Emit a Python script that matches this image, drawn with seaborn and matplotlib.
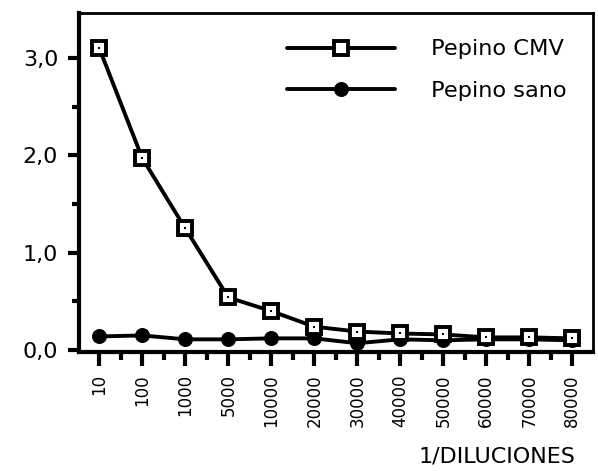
import matplotlib
matplotlib.use("Agg")
import matplotlib.pyplot as plt
import seaborn as sns
import pandas as pd
from matplotlib.ticker import FixedLocator, FuncFormatter

dilutions = ["10", "100", "1000", "5000", "10000", "20000", "30000",
             "40000", "50000", "60000", "70000", "80000"]
cmv = [3.10, 1.97, 1.25, 0.54, 0.40, 0.24, 0.19, 0.17, 0.16, 0.13, 0.13, 0.12]
sano = [0.14, 0.15, 0.11, 0.11, 0.12, 0.12, 0.07, 0.11, 0.10, 0.11, 0.11, 0.10]

df = pd.DataFrame({"dil": dilutions * 2,
                   "val": cmv + sano,
                   "serie": ["Pepino CMV"] * len(cmv) + ["Pepino sano"] * len(sano)})

sns.set_theme(style="white")
plt.rcParams['font.family'] = ['DejaVu Sans']
plt.rcParams['text.color'] = 'black'
plt.rcParams['axes.labelcolor'] = 'black'
plt.rcParams['xtick.color'] = 'black'
plt.rcParams['ytick.color'] = 'black'

fig = plt.figure(figsize=(5.98, 4.71), dpi=100)
ax = fig.add_axes([79/598, 1-352/471, (593-79)/598, (352-13)/471])

d1 = df[df.serie == "Pepino CMV"]
d2 = df[df.serie == "Pepino sano"]
sns.lineplot(data=d1, x="dil", y="val", ax=ax, sort=False, color="black",
             lw=2.8, marker="s", markersize=10, markerfacecolor="white",
             markeredgecolor="black", markeredgewidth=2.8, label="Pepino CMV", zorder=3)
sns.lineplot(data=d2, x="dil", y="val", ax=ax, sort=False, color="black",
             lw=2.8, marker="o", markersize=10, markeredgecolor="black",
             label="Pepino sano", zorder=2)
sns.scatterplot(data=d1, x="dil", y="val", ax=ax, color="black", s=4,
                marker="s", linewidth=0, zorder=4, legend=False)

ax.set_xlim(-0.47, 11.48)
ax.set_ylim(-0.02, 3.46)
ax.yaxis.set_major_locator(FixedLocator([0, 1, 2, 3]))
ax.yaxis.set_minor_locator(FixedLocator([0.5, 1.5, 2.5]))
ax.yaxis.set_major_formatter(FuncFormatter(lambda v, p: f"{v:.1f}".replace(".", ",")))
ax.xaxis.set_minor_locator(FixedLocator([i + 0.5 for i in range(-1, 12)]))

ax.tick_params(axis="y", which="major", direction="out", length=8, width=3,
               labelsize=16, pad=7, left=True, color="black", labelcolor="black")
ax.tick_params(axis="y", which="minor", direction="out", length=5, width=3, left=True, color="black")
ax.tick_params(axis="x", which="major", direction="out", length=10, width=3,
               labelsize=12, pad=6, bottom=True, labelrotation=90, color="black",
               labelcolor="black")
ax.tick_params(axis="x", which="minor", direction="out", length=6, width=3, bottom=True, color="black")

for s in ["left", "bottom"]:
    ax.spines[s].set_linewidth(3)
    ax.spines[s].set_color("black")
for s in ["top", "right"]:
    ax.spines[s].set_linewidth(2)
    ax.spines[s].set_color("black")

ax.set_ylabel("")
ax.set_xlabel("1/DILUCIONES", fontsize=16, ha="right", color="black")
ax.xaxis.set_label_coords((575-79)/(593-79), -(466-352)/339)
ax.xaxis.label.set_va("bottom")

leg = ax.legend(loc="upper left", bbox_to_anchor=(0.405, 0.922), frameon=False,
                fontsize=16.2, handlelength=4.8, handletextpad=1.6,
                labelspacing=0.95, borderpad=0, borderaxespad=0)
for t in leg.get_texts():
    t.set_color("black")

fig.savefig("out.png", dpi=100)
